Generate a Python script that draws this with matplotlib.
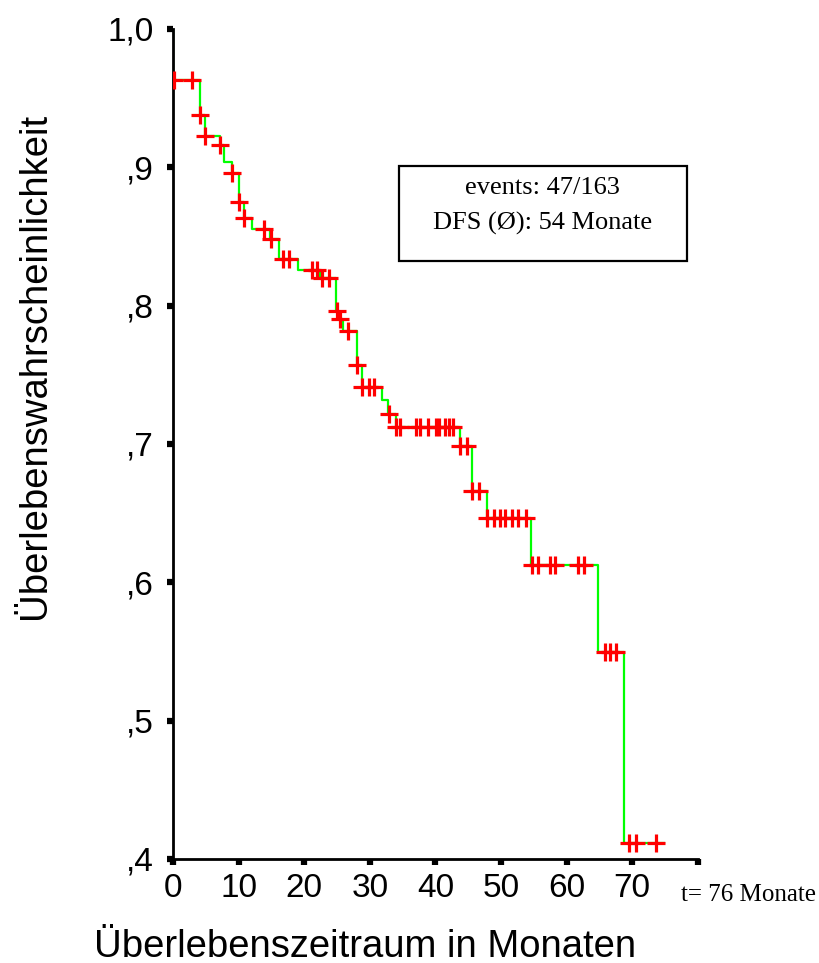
import numpy as np
import matplotlib.pyplot as plt
from matplotlib.patches import Rectangle

# Kaplan-Meier step: event times (months) and survival after each drop
event_t = [0.0, 4.1, 4.8, 7.1, 7.8, 8.9, 10.0, 10.8, 12.0, 14.8, 16.1, 19.1,
           22.4, 24.9, 25.3, 25.95, 28.0, 28.8, 31.8, 32.8, 34.0, 43.7, 45.5,
           47.8, 54.6, 64.8, 68.8]
surv = [0.963, 0.9375, 0.923, 0.9158, 0.9036, 0.896, 0.8746, 0.8635, 0.8553,
        0.848, 0.834, 0.826, 0.820, 0.7964, 0.790, 0.782, 0.757, 0.7415,
        0.7318, 0.7216, 0.712, 0.6984, 0.6657, 0.6463, 0.6126, 0.5494, 0.4114]
end_t = 74.9

# censored observations (months)
censor_t = [0.1, 2.9, 4.15, 4.85, 7.15, 8.95, 10.05, 10.85, 13.9, 14.85, 16.8,
            17.7, 21.1, 21.9, 22.7, 23.7, 24.95, 25.5, 26.7, 28.05, 28.85, 29.8,
            30.6, 32.85, 34.05, 34.6, 37.0, 37.6, 38.8, 40.1, 40.6, 41.4, 42.0,
            42.7, 43.8, 44.8, 45.6, 46.7, 47.85, 49.0, 49.9, 50.6, 51.7, 52.6,
            53.8, 54.7, 55.7, 57.4, 58.3, 61.7, 62.6, 65.8, 66.7, 67.6, 69.5,
            70.6, 73.6]

x_ticks = [0, 10, 20, 30, 40, 50, 60, 70, 80]
x_labels = ["0", "10", "20", "30", "40", "50", "60", "70", ""]
y_ticks = [0.4, 0.5, 0.6, 0.7, 0.8, 0.9, 1.0]
y_labels = [",4", ",5", ",6", ",7", ",8", ",9", "1,0"]

plt.rcParams['font.family'] = ['Liberation Sans', 'DejaVu Sans']

fig = plt.figure(figsize=(8.2, 9.63), dpi=100)
ax = fig.add_axes([0.2113, 0.108, 0.6395, 0.8619])

st = np.concatenate([[0.0], event_t, [end_t]])
ss = np.concatenate([[1.0], surv, [surv[-1]]])
ax.step(st, ss, where='post', color='#00ff00', lw=1.6, zorder=2)

ct = np.array(censor_t)
idx = np.searchsorted(np.array(event_t), ct, side='right') - 1
cs = np.array(surv)[idx]
ax.plot(ct, cs, ls='none', marker='+', color='#ff0000', ms=13, mew=2.3, zorder=3)

ax.set_xlim(0, 80)
ax.set_ylim(0.4, 1.0)
ax.set_xticks(x_ticks)
ax.set_xticklabels(x_labels)
ax.set_yticks(y_ticks)
ax.set_yticklabels(y_labels)
ax.tick_params(direction='out', length=4, width=4.5, labelsize=24, color='black')
ax.tick_params(axis='x', pad=6)
ax.tick_params(axis='y', pad=10)
for s in ['top', 'right']:
    ax.spines[s].set_visible(False)
for s in ['left', 'bottom']:
    ax.spines[s].set_linewidth(2)

fig.text(0.043, 0.62, "Überlebenswahrscheinlichkeit", rotation=90,
         ha='center', va='center', fontsize=27.5)
fig.text(0.445, 0.017, "Überlebenszeitraum in Monaten", ha='center', va='center', fontsize=27.5)
fig.text(0.995, 0.0706, "t= 76 Monate", ha='right', va='center', fontsize=18,
         family='Liberation Serif')

fig.add_artist(Rectangle((0.487, 0.729), 0.3505, 0.0987, transform=fig.transFigure,
                         fill=False, ec='black', lw=1.6))
fig.text(0.662, 0.8048, "events: 47/163", ha='center', va='center', fontsize=19,
         family='Liberation Serif')
fig.text(0.662, 0.7684, "DFS (Ø): 54 Monate", ha='center', va='center', fontsize=19,
         family='Liberation Serif')

fig.savefig("out.png", dpi=100)
